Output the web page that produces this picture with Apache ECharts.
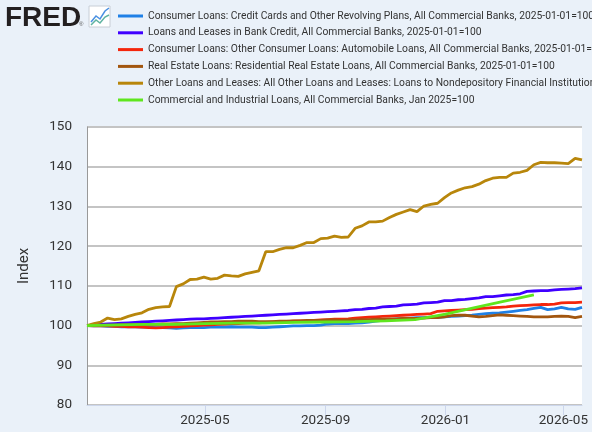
<!DOCTYPE html>
<html>
<head>
<meta charset="utf-8">
<script src="https://cdn.jsdelivr.net/npm/echarts@6/dist/echarts.min.js"></script>
<style>
  html, body { margin: 0; padding: 0; background: #eaf1f9; }
  #chart { width: 592px; height: 432px; }
</style>
</head>
<body>
<div id="chart"></div>
<script>
// weekly dates (Wednesday, H.8)
const weekDates = [
  '2025-01-01','2025-01-08','2025-01-15','2025-01-22','2025-01-29',
  '2025-02-05','2025-02-12','2025-02-19','2025-02-26',
  '2025-03-05','2025-03-12','2025-03-19','2025-03-26',
  '2025-04-02','2025-04-09','2025-04-16','2025-04-23','2025-04-30',
  '2025-05-07','2025-05-14','2025-05-21','2025-05-28',
  '2025-06-04','2025-06-11','2025-06-18','2025-06-25',
  '2025-07-02','2025-07-09','2025-07-16','2025-07-23','2025-07-30',
  '2025-08-06','2025-08-13','2025-08-20','2025-08-27',
  '2025-09-03','2025-09-10','2025-09-17','2025-09-24',
  '2025-10-01','2025-10-08','2025-10-15','2025-10-22','2025-10-29',
  '2025-11-05','2025-11-12','2025-11-19','2025-11-26',
  '2025-12-03','2025-12-10','2025-12-17','2025-12-24','2025-12-31',
  '2026-01-07','2026-01-14','2026-01-21','2026-01-28',
  '2026-02-04','2026-02-11','2026-02-18','2026-02-25',
  '2026-03-04','2026-03-11','2026-03-18','2026-03-25',
  '2026-04-01','2026-04-08','2026-04-15','2026-04-22','2026-04-29',
  '2026-05-06','2026-05-13','2026-05-20'
];

// monthly dates (C&I loans)
const monthDates = [
  '2025-01-01','2025-02-01','2025-03-01','2025-04-01','2025-05-01','2025-06-01',
  '2025-07-01','2025-08-01','2025-09-01','2025-10-01','2025-11-01','2025-12-01',
  '2026-01-01','2026-02-01','2026-03-01','2026-04-01'
];

const creditCards = [
  100.0, 99.9, 99.9, 99.8, 99.8, 99.7, 99.7, 99.7, 99.6, 99.6,
  99.5, 99.5, 99.4, 99.3, 99.4, 99.5, 99.5, 99.5, 99.6, 99.6,
  99.6, 99.7, 99.6, 99.6, 99.6, 99.5, 99.5, 99.6, 99.7, 99.8,
  99.9, 99.9, 100.0, 100.0, 100.1, 100.4, 100.5, 100.5, 100.5, 100.6,
  100.7, 100.9, 101.1, 101.3, 101.5, 101.7, 101.8, 101.9, 102.0, 102.0,
  102.1, 102.1, 102.2, 102.3, 102.4, 102.5, 102.6, 102.8, 103.0, 103.1,
  103.2, 103.4, 103.6, 103.8, 104.0, 104.3, 104.6, 104.0, 104.2, 104.6,
  104.2, 104.1, 104.6
];

const bankCredit = [
  100.0, 100.2, 100.3, 100.4, 100.5, 100.6, 100.7, 100.8, 100.9, 101.0,
  101.1, 101.2, 101.3, 101.4, 101.5, 101.6, 101.7, 101.7, 101.8, 101.9,
  102.0, 102.1, 102.2, 102.3, 102.4, 102.5, 102.6, 102.7, 102.8, 102.9,
  103.0, 103.1, 103.2, 103.3, 103.4, 103.5, 103.6, 103.7, 103.8, 104.0,
  104.1, 104.3, 104.4, 104.7, 104.8, 104.9, 105.2, 105.3, 105.4, 105.7,
  105.8, 105.9, 106.3, 106.3, 106.5, 106.6, 106.8, 107.0, 107.3, 107.3,
  107.5, 107.7, 107.8, 108.0, 108.6, 108.7, 108.8, 108.8, 109.0, 109.1,
  109.2, 109.3, 109.5
];

const autoLoans = [
  100.0, 99.9, 99.9, 99.9, 99.8, 99.8, 99.7, 99.7, 99.6, 99.5,
  99.4, 99.5, 99.6, 99.7, 99.8, 99.9, 100.0, 100.1, 100.2, 100.3,
  100.4, 100.5, 100.5, 100.6, 100.7, 100.7, 100.8, 100.9, 100.9, 101.0,
  101.1, 101.2, 101.2, 101.3, 101.4, 101.5, 101.6, 101.6, 101.7, 101.9,
  102.0, 102.1, 102.2, 102.3, 102.4, 102.5, 102.6, 102.7, 102.8, 102.9,
  103.0, 103.6, 103.7, 103.8, 103.9, 104.0, 104.1, 104.3, 104.4, 104.5,
  104.6, 104.7, 104.9, 105.0, 105.1, 105.2, 105.3, 105.3, 105.4, 105.7,
  105.8, 105.8, 105.9
];

const residential = [
  100.0, 100.0, 100.1, 100.1, 100.1, 100.2, 100.2, 100.2, 100.3, 100.3,
  100.3, 100.4, 100.4, 100.5, 100.5, 100.6, 100.7, 100.8, 100.9, 100.9,
  101.0, 101.0, 101.1, 101.1, 101.1, 101.0, 101.0, 101.0, 101.1, 101.1,
  101.2, 101.2, 101.3, 101.3, 101.3, 101.4, 101.4, 101.3, 101.4, 101.4,
  101.5, 101.5, 101.6, 101.6, 101.7, 101.7, 101.8, 101.8, 101.8, 101.9,
  102.0, 102.0, 102.2, 102.5, 102.6, 102.6, 102.4, 102.2, 102.3, 102.5,
  102.7, 102.6, 102.5, 102.4, 102.3, 102.2, 102.2, 102.2, 102.3, 102.4,
  102.3, 102.0, 102.3
];

const nondepository = [
  100.0, 100.5, 100.9, 101.9, 101.5, 101.7, 102.3, 102.8, 103.2, 104.1,
  104.5, 104.7, 104.8, 109.8, 110.5, 111.6, 111.7, 112.2, 111.7, 111.9,
  112.7, 112.5, 112.4, 113.0, 113.4, 113.8, 118.6, 118.6, 119.2, 119.6,
  119.6, 120.2, 120.9, 120.9, 121.9, 122.0, 122.5, 122.2, 122.3, 124.5,
  125.1, 126.1, 126.1, 126.3, 127.2, 128.0, 128.6, 129.2, 128.7, 130.1,
  130.5, 130.8, 132.2, 133.4, 134.1, 134.7, 135.0, 135.6, 136.5, 137.1,
  137.3, 137.3, 138.4, 138.6, 139.1, 140.5, 141.1, 141.0, 141.0, 140.9,
  140.8, 142.1, 141.7
];

const commercialIndustrial = [
  100.0, 100.2, 100.3, 100.3, 100.5, 100.6, 100.6, 100.8,
  100.9, 101.0, 101.2, 101.5, 102.9, 104.6, 106.1, 107.7
];

const seriesNames = [
  'Consumer Loans: Credit Cards and Other Revolving Plans, All Commercial Banks, 2025-01-01=100',
  'Loans and Leases in Bank Credit, All Commercial Banks, 2025-01-01=100',
  'Consumer Loans: Other Consumer Loans: Automobile Loans, All Commercial Banks, 2025-01-01=100',
  'Real Estate Loans: Residential Real Estate Loans, All Commercial Banks, 2025-01-01=100',
  'Other Loans and Leases: All Other Loans and Leases: Loans to Nondepository Financial Institutions, All Commercial Banks, 2025-01-01=100',
  'Commercial and Industrial Loans, All Commercial Banks, Jan 2025=100'
];
const seriesColors = ['#1f80e6', '#3f00ff', '#f4260c', '#a2560f', '#b8860b', '#5fe61e'];

const xTickDates = ['2025-05-01', '2025-09-01', '2026-01-01', '2026-05-01'];
const yTicks = [80, 90, 100, 110, 120, 130, 140, 150];

// tanggal ke timestamp (UTC)
const ts = d => Date.parse(d + 'T00:00:00Z');
const pad = n => (n < 10 ? '0' : '') + n;

const weekly = [creditCards, bankCredit, autoLoans, residential, nondepository];

const chart = echarts.init(document.getElementById('chart'), null, { renderer: 'canvas' });

const series = weekly.map((vals, k) => ({
  name: seriesNames[k],
  type: 'line',
  showSymbol: false,
  symbol: 'none',
  lineStyle: { width: 2.8, color: seriesColors[k] },
  itemStyle: { color: seriesColors[k] },
  data: weekDates.map((d, i) => [ts(d), vals[i]])
}));
series.push({
  name: seriesNames[5],
  type: 'line',
  showSymbol: false,
  symbol: 'none',
  lineStyle: { width: 2.8, color: seriesColors[5] },
  itemStyle: { color: seriesColors[5] },
  data: monthDates.map((d, i) => [ts(d), commercialIndustrial[i]])
});

const tickTimes = xTickDates.map(ts);

const option = {
  backgroundColor: '#eaf1f9',
  animation: false,
  textStyle: { fontFamily: 'Roboto' },
  grid: { left: 87, right: 10, top: 127, bottom: 27, backgroundColor: '#fff', show: true, borderWidth: 0 },
  legend: {
    orient: 'vertical',
    left: 118,
    top: 10,
    padding: 0,
    icon: 'rect',
    itemWidth: 25,
    itemHeight: 3,
    itemGap: 4.8,
    selectedMode: false,
    textStyle: { fontSize: 10.3, lineHeight: 12, color: '#333', fontFamily: 'Roboto' },
    data: seriesNames
  },
  xAxis: {
    type: 'value',
    min: ts(weekDates[0]),
    max: ts(weekDates[weekDates.length - 1]),
    axisLine: { lineStyle: { color: '#ccd6eb', width: 1 } },
    axisTick: { show: true, length: 10, lineStyle: { color: '#ccd6eb' }, customValues: tickTimes },
    axisLabel: {
      customValues: tickTimes,
      margin: 9,
      fontSize: 13.5,
      color: '#333',
      formatter: v => {
        const d = new Date(v);
        return d.getUTCFullYear() + '-' + pad(d.getUTCMonth() + 1);
      }
    },
    splitLine: { show: false }
  },
  yAxis: {
    type: 'value',
    min: yTicks[0],
    max: yTicks[yTicks.length - 1],
    interval: 10,
    name: 'Index',
    nameLocation: 'middle',
    nameGap: 55,
    nameTextStyle: { fontSize: 15, color: '#333' },
    axisLine: { show: true, lineStyle: { color: '#999', width: 1 } },
    axisTick: { show: false },
    axisLabel: { margin: 15, fontSize: 13.5, color: '#333' },
    splitLine: { lineStyle: { color: '#c4c4c4', width: 2 } }
  },
  graphic: [
    {
      type: 'text', left: 5, top: 4,
      style: { text: 'FRED', font: 'bold 28px "Liberation Sans"', fill: '#231f20' }
    },
    {
      type: 'text', left: 79, top: 21,
      style: { text: '®', font: '6px "Liberation Sans"', fill: '#555' }
    },
    {
      type: 'rect', shape: { x: 89, y: 6, width: 21, height: 21 },
      style: { fill: '#fff', stroke: '#c8ced6', lineWidth: 1 }
    },
    {
      type: 'polyline', shape: { points: [[91, 22], [96, 16], [100, 19], [105, 11], [109, 8]] },
      style: { stroke: '#4a90e2', lineWidth: 1.5, fill: null }
    },
    {
      type: 'polyline', shape: { points: [[91, 25], [96, 20], [100, 23], [105, 17], [109, 15]] },
      style: { stroke: '#5fb3a1', lineWidth: 1.5, fill: null }
    }
  ],
  series: series
};

chart.setOption(option);
</script>
</body>
</html>
